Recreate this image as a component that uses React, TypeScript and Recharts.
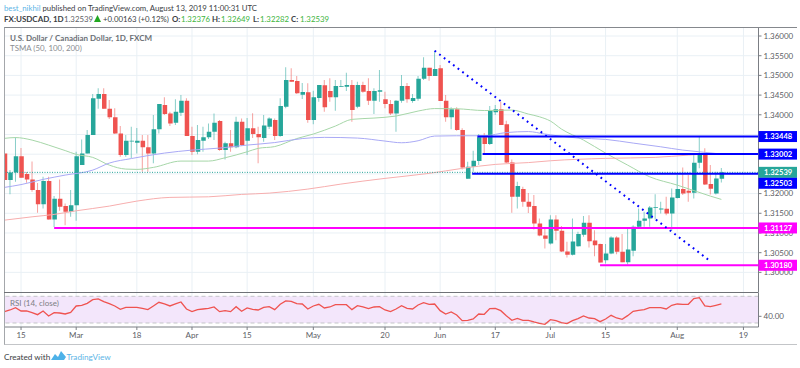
import {
  Bar,
  CartesianGrid,
  Cell,
  ComposedChart,
  Line,
  ReferenceArea,
  ReferenceLine,
  XAxis,
  YAxis,
} from "recharts";

const FONT = "Lato, 'Open Sans', sans-serif";
const UP = "#26a69a";
const DOWN = "#ef5350";
const BLUE = "#0000ff";
const MAGENTA = "#ff00ff";
const GRID = "#e9f0f5";
const TICK = "#5d6066";

// first candle in the frame is three sessions before Feb 15
const FIRST_BAR = -3;

const opens = [
  1.3302, 1.32342, 1.32538, 1.3295, 1.32494, 1.3236, 1.32088, 1.31732, 1.32317, 1.31344,
  1.31867, 1.31682, 1.31537, 1.31707, 1.32723, 1.3302, 1.33485, 1.34407, 1.34526, 1.34153,
  1.33935, 1.33528, 1.32977, 1.33325, 1.33289, 1.3334, 1.33173, 1.3302, 1.3363, 1.34247,
  1.34036, 1.33797, 1.34051, 1.34356, 1.3346, 1.33061, 1.3334, 1.33427, 1.33569, 1.33841,
  1.33104, 1.33275, 1.33173, 1.33823, 1.3334, 1.33656, 1.3351, 1.33409, 1.33696, 1.33866,
  1.3346, 1.34204, 1.34882, 1.34857, 1.34509, 1.3457, 1.33866, 1.34425, 1.34747, 1.34602,
  1.34443, 1.34712, 1.34712, 1.34755, 1.34204, 1.34755, 1.34602, 1.34356, 1.34585, 1.34392,
  1.34272, 1.34036, 1.34356, 1.3473, 1.34349, 1.34407, 1.34915, 1.35194, 1.34984, 1.35179,
  1.34356, 1.33935, 1.34138, 1.33612, 1.32375, 1.3268, 1.32825, 1.33427, 1.33257, 1.34062,
  1.34138, 1.33757, 1.32792, 1.31918, 1.32114, 1.31791, 1.31682, 1.31243, 1.30938, 1.30735,
  1.31344, 1.31055, 1.30531, 1.30445, 1.30666, 1.30953, 1.31258, 1.30808, 1.30717, 1.3031,
  1.30481, 1.30887, 1.30521, 1.3026, 1.30547, 1.31156, 1.31308, 1.3137, 1.31639, 1.31598,
  1.31613, 1.31496, 1.31885, 1.32114, 1.32071, 1.3202, 1.32782, 1.3302, 1.32241, 1.32005,
  1.32376,
];

const closes = [
  1.32342, 1.32538, 1.3295, 1.324, 1.3236, 1.32088, 1.31732, 1.32317, 1.31344, 1.31867,
  1.31664, 1.31537, 1.31707, 1.3295, 1.3302, 1.33485, 1.34417, 1.34526, 1.34153, 1.33935,
  1.33528, 1.32977, 1.3334, 1.3334, 1.3334, 1.33173, 1.3302, 1.3363, 1.34272, 1.34018,
  1.33782, 1.34077, 1.34356, 1.3346, 1.33061, 1.33358, 1.33427, 1.33569, 1.33797, 1.33104,
  1.33275, 1.33173, 1.33823, 1.33231, 1.33656, 1.3351, 1.33427, 1.33727, 1.33909, 1.3346,
  1.34222, 1.34882, 1.34839, 1.34544, 1.34577, 1.33866, 1.34443, 1.34755, 1.34189, 1.34443,
  1.3473, 1.3473, 1.34755, 1.3412, 1.34755, 1.34585, 1.34356, 1.34602, 1.3462, 1.34272,
  1.34036, 1.34356, 1.3473, 1.34392, 1.34425, 1.34915, 1.35194, 1.34984, 1.35162, 1.34349,
  1.33935, 1.34138, 1.33612, 1.32665, 1.3268, 1.32833, 1.33427, 1.33257, 1.34102, 1.34138,
  1.33739, 1.32792, 1.31918, 1.3219, 1.31791, 1.31664, 1.31243, 1.30938, 1.30851, 1.31344,
  1.31055, 1.30531, 1.30445, 1.30785, 1.30971, 1.31258, 1.30793, 1.30691, 1.30252, 1.30481,
  1.30887, 1.30521, 1.3026, 1.30582, 1.31156, 1.31308, 1.3137, 1.31649, 1.31657, 1.31623,
  1.31496, 1.31903, 1.32114, 1.32005, 1.3202, 1.32782, 1.3302, 1.32233, 1.32122, 1.32386,
  1.32539,
];

const highs = [
  1.33104, 1.32596, 1.33427, 1.33155, 1.32545, 1.32817, 1.32266, 1.32426, 1.32426, 1.31936,
  1.3236, 1.3175, 1.32088, 1.33061, 1.33376, 1.33612, 1.34526, 1.34671, 1.34671, 1.34374,
  1.34163, 1.33714, 1.33485, 1.33696, 1.33663, 1.33485, 1.33485, 1.33993, 1.34272, 1.34443,
  1.34077, 1.34392, 1.34501, 1.34417, 1.33696, 1.33739, 1.33696, 1.33782, 1.34036, 1.33866,
  1.33315, 1.33612, 1.3395, 1.33909, 1.33917, 1.3404, 1.33696, 1.33993, 1.33935, 1.33909,
  1.34417, 1.35205, 1.35179, 1.34984, 1.34806, 1.34798, 1.3461, 1.34755, 1.34882, 1.34925,
  1.34882, 1.34882, 1.35067, 1.34882, 1.34839, 1.34839, 1.34925, 1.34671, 1.35136, 1.34585,
  1.34374, 1.34374, 1.35009, 1.34806, 1.34526, 1.34984, 1.35459, 1.35194, 1.35627, 1.35263,
  1.34501, 1.34189, 1.34189, 1.33656, 1.32807, 1.33086, 1.3351, 1.33536, 1.34222, 1.34247,
  1.34331, 1.33848, 1.32868, 1.32299, 1.32172, 1.32012, 1.31961, 1.3137, 1.31123, 1.31453,
  1.31453, 1.31174, 1.30775, 1.3137, 1.31029, 1.31428, 1.31453, 1.31072, 1.30735, 1.30717,
  1.3092, 1.3092, 1.30971, 1.31131, 1.31199, 1.31623, 1.31537, 1.31682, 1.31986, 1.31791,
  1.31918, 1.32132, 1.32469, 1.32665, 1.32469, 1.3302, 1.3346, 1.33148, 1.32723, 1.32553,
  1.32649,
];

const lows = [
  1.32291, 1.31986, 1.32299, 1.32393, 1.32273, 1.32045, 1.31511, 1.31623, 1.31344, 1.31149,
  1.31562, 1.31199, 1.3141, 1.31308, 1.32723, 1.3302, 1.33485, 1.34153, 1.34153, 1.33891,
  1.3351, 1.32934, 1.32934, 1.32901, 1.3302, 1.32553, 1.32553, 1.32767, 1.33528, 1.33993,
  1.33714, 1.33739, 1.33968, 1.3346, 1.32977, 1.33, 1.33061, 1.33384, 1.33358, 1.33086,
  1.32868, 1.33061, 1.33148, 1.33206, 1.32977, 1.33409, 1.32767, 1.33315, 1.33638, 1.33358,
  1.33442, 1.34163, 1.34839, 1.34526, 1.34399, 1.33797, 1.33757, 1.34331, 1.34077, 1.34331,
  1.34102, 1.34704, 1.34602, 1.33823, 1.34163, 1.3456, 1.34247, 1.34018, 1.34331, 1.34163,
  1.33993, 1.33569, 1.34305, 1.34305, 1.34305, 1.34356, 1.34882, 1.34864, 1.34984, 1.34349,
  1.33823, 1.3363, 1.33595, 1.32614, 1.32375, 1.32553, 1.32723, 1.3302, 1.33231, 1.33993,
  1.33739, 1.32774, 1.31511, 1.31623, 1.31664, 1.31504, 1.3109, 1.3092, 1.30608, 1.30709,
  1.30818, 1.30514, 1.30379, 1.3043, 1.30648, 1.30902, 1.30633, 1.30412, 1.30242, 1.30227,
  1.30463, 1.30463, 1.3026, 1.30201, 1.30412, 1.31131, 1.31156, 1.31156, 1.31344, 1.31496,
  1.31453, 1.31055, 1.31877, 1.31961, 1.31791, 1.31877, 1.3264, 1.32215, 1.31979, 1.31979,
  1.32282,
];

const rsiValues = [
  47, 49.5, 53, 48, 48, 45.5, 42.5, 48, 40.5, 45.5, 45, 43.5, 46, 55.5, 56.5, 59.5, 65, 66, 62, 59,
  55.5, 50.5, 53.5, 53.5, 53.5, 52, 50, 55.5, 61, 58.5, 55.5, 58.5, 61.5, 51, 47, 50, 51, 52, 54, 47,
  48.5, 47, 54.5, 47.5, 52.5, 50.5, 49.5, 53.5, 54.5, 50, 58, 63, 62.5, 59, 58.5, 51, 55.5, 58, 52.5, 54,
  57.5, 57.5, 57.5, 50, 56, 54, 51.5, 54, 54.5, 49.5, 47, 51, 56, 52, 51, 57, 60.5, 58, 58.5, 48.5,
  43.5, 46.5, 42, 33.5, 34, 36, 43.5, 43, 51.5, 52, 48.5, 41, 34, 37, 34, 34, 31.5, 29.5, 28, 35,
  33.5, 30.5, 29, 33.5, 36.5, 40.5, 37.5, 36.5, 32, 36, 41.5, 37.5, 35.5, 41, 47.5, 49, 50, 53, 53, 53,
  51, 56.5, 58.5, 58, 58, 66.5, 68, 55.5, 54.5, 56.5, 58.5,
];

// moving averages read at a handful of bars, [bar, price]
const sma50: [number, number][] = [
  [-3, 1.33402], [-1, 1.33422], [2, 1.33358], [5, 1.33231], [8, 1.33092], [10, 1.32995], [13, 1.32919],
  [16, 1.32723], [19, 1.32622], [21, 1.32614], [24, 1.32665], [29, 1.32825], [34, 1.32825], [37, 1.32909],
  [41, 1.33061], [43, 1.33148], [46, 1.33193], [50, 1.33397], [53, 1.33511], [57, 1.33714], [60, 1.33884],
  [64, 1.33917], [68, 1.33968], [72, 1.34095], [75, 1.34158], [79, 1.34153], [84, 1.34108], [89, 1.3412],
  [92, 1.34019], [94, 1.3395], [96, 1.33841], [98, 1.33638], [102, 1.33358], [106, 1.33028], [110, 1.32723],
  [114, 1.32426], [119, 1.32215], [122, 1.32076], [125, 1.31936], [127, 1.31852],
];
const sma100: [number, number][] = [
  [-3, 1.32157], [0, 1.32228], [4, 1.3236], [8, 1.32469], [13, 1.32596], [16, 1.32774], [20, 1.32889],
  [26, 1.33028], [31, 1.33104], [36, 1.33155], [41, 1.33231], [46, 1.33295], [51, 1.33397], [55, 1.33427],
  [61, 1.33409], [66, 1.33333], [69, 1.3329], [72, 1.33341], [75, 1.3346], [79, 1.33468], [84, 1.33468],
  [88, 1.33549], [92, 1.33574], [95, 1.33511], [101, 1.33409], [106, 1.33376], [111, 1.33282], [116, 1.33188],
  [120, 1.33104], [123, 1.33061], [127, 1.33003],
];
const sma200: [number, number][] = [
  [-3, 1.31326], [2, 1.3141], [6, 1.31471], [10, 1.31563], [16, 1.31682], [21, 1.31809], [27, 1.31903],
  [34, 1.31918], [40, 1.31979], [45, 1.32012], [52, 1.32114], [58, 1.32241], [66, 1.32386], [74, 1.32513],
  [80, 1.3264], [86, 1.32741], [92, 1.32787], [96, 1.32833], [106, 1.32894], [115, 1.32919], [121, 1.32977],
  [124, 1.33003], [127, 1.33016],
];

const trendLine: [number, number][] = [[75, 1.35627], [124.75, 1.3031]];

const blueLevels: [number, number][] = [[82.75, 1.33448], [83.7, 1.33002], [81.8, 1.32503]];
const magentaLevels: [number, number][] = [[6, 1.31127], [105, 1.3018]];
const LAST_PRICE = 1.32539;

const gridPrices = [1.3, 1.305, 1.31, 1.315, 1.32, 1.325, 1.33, 1.335, 1.34, 1.345, 1.35, 1.355, 1.36];
// 1.335, 1.33 and 1.325 sit fully behind the price tags
const priceTicks = [1.3, 1.305, 1.31, 1.315, 1.32, 1.34, 1.345, 1.35, 1.355, 1.36];
const timeTicks = [0, 10, 21, 31, 41, 53, 66, 76, 86, 96, 106, 119, 131];
const timeLabels = ["15", "Mar", "18", "Apr", "15", "May", "20", "Jun", "17", "Jul", "15", "Aug", "19"];

const tags = [
  { value: 1.33448, color: BLUE },
  { value: 1.33002, color: BLUE },
  { value: 1.32539, color: UP },
  { value: 1.32503, color: BLUE },
  { value: 1.31127, color: MAGENTA },
  { value: 1.3018, color: MAGENTA },
];

const candles = opens.map((open, k) => ({
  bar: k + FIRST_BAR,
  open,
  close: closes[k],
  wick: [lows[k], highs[k]],
  body: [Math.min(open, closes[k]), Math.max(open, closes[k])],
}));
const rsi = rsiValues.map((value, k) => ({ bar: k + FIRST_BAR, value }));
const toPoints = (rows: [number, number][]) => rows.map(([bar, value]) => ({ bar, value }));
const levelPoints = (start: number, value: number) => [{ bar: start, value }, { bar: 133.7, value }];

const BAR_DOMAIN: [number, number] = [-3, 133.73];

function TagTick({ y, payload }: any) {
  const tag = tags.find((t) => t.value === payload.value);
  if (!tag) return null;
  // the 1.32503 tag gets pushed down under the last price tag
  const shift = tag.value === 1.32503 ? 9.5 : 0;
  return (
    <g>
      <rect x={758.5} y={y + shift - 5.5} width={38.5} height={11} fill={tag.color} />
      <text x={764} y={y + shift + 2.9} fontSize={7.6} fontFamily={FONT} fill="#fff" style={{ fontWeight: 700 }}>
        {tag.value.toFixed(5)}
      </text>
    </g>
  );
}

function MainChart() {
  return (
    <ComposedChart
      width={800}
      height={293}
      data={candles}
      margin={{ top: 27.5, right: 0, bottom: 0.5, left: 4.5 }}
      style={{ position: "absolute", left: 0, top: 0 }}
    >
      <XAxis xAxisId="time" dataKey="bar" type="number" domain={BAR_DOMAIN} allowDataOverflow hide height={0} />
      <XAxis xAxisId="body" dataKey="bar" type="number" domain={BAR_DOMAIN} allowDataOverflow hide height={0} />
      <YAxis
        yAxisId="price"
        orientation="right"
        width={40.5}
        domain={[1.29489, 1.36216]}
        allowDataOverflow
        ticks={priceTicks}
        interval={0}
        tickFormatter={(v) => Number(v).toFixed(5)}
        tick={{ fill: TICK, fontSize: 8, fontFamily: FONT }}
        tickSize={3}
        tickMargin={2}
        stroke="#7b7e84"
      />
      <YAxis
        yAxisId="tags"
        orientation="right"
        width={1}
        domain={[1.29489, 1.36216]}
        allowDataOverflow
        ticks={tags.map((t) => t.value)}
        interval={0}
        axisLine={false}
        tickLine={false}
        tick={<TagTick />}
      />
      <CartesianGrid
        xAxisId="time"
        yAxisId="price"
        stroke={GRID}
        horizontalValues={gridPrices}
        verticalValues={timeTicks}
      />
      <Line xAxisId="time" yAxisId="price" data={toPoints(sma50)} dataKey="value" type="monotone" dot={false} stroke="#a6d6a8" strokeWidth={1} isAnimationActive={false} />
      <Line xAxisId="time" yAxisId="price" data={toPoints(sma100)} dataKey="value" type="monotone" dot={false} stroke="#a9a9f5" strokeWidth={1} isAnimationActive={false} />
      <Line xAxisId="time" yAxisId="price" data={toPoints(sma200)} dataKey="value" type="monotone" dot={false} stroke="#f7aeae" strokeWidth={1} isAnimationActive={false} />
      <Bar xAxisId="time" yAxisId="price" dataKey="wick" barSize={1} isAnimationActive={false}>
        {candles.map((c) => (
          <Cell key={c.bar} fill={c.close >= c.open ? UP : DOWN} fillOpacity={0.55} />
        ))}
      </Bar>
      <Bar xAxisId="body" yAxisId="price" dataKey="body" barSize={4.5} isAnimationActive={false}>
        {candles.map((c) => (
          <Cell key={c.bar} fill={c.close >= c.open ? UP : DOWN} />
        ))}
      </Bar>
      <Line xAxisId="time" yAxisId="price" data={levelPoints(-3, LAST_PRICE)} dataKey="value" dot={false} stroke={UP} strokeWidth={1} strokeDasharray="1 1.5" isAnimationActive={false} />
      {blueLevels.map(([start, value]) => (
        <Line key={value} xAxisId="time" yAxisId="price" data={levelPoints(start, value)} dataKey="value" dot={false} stroke={BLUE} strokeWidth={2} isAnimationActive={false} />
      ))}
      {magentaLevels.map(([start, value]) => (
        <Line key={value} xAxisId="time" yAxisId="price" data={levelPoints(start, value)} dataKey="value" dot={false} stroke={MAGENTA} strokeWidth={2} isAnimationActive={false} />
      ))}
      <Line xAxisId="time" yAxisId="price" data={toPoints(trendLine)} dataKey="value" dot={false} stroke={BLUE} strokeWidth={2} strokeDasharray="1.8 4" isAnimationActive={false} />
    </ComposedChart>
  );
}

function RsiChart() {
  return (
    <ComposedChart
      width={800}
      height={53}
      data={rsi}
      margin={{ top: 0.5, right: 0, bottom: 0, left: 4.5 }}
      style={{ position: "absolute", left: 0, top: 292 }}
    >
      <XAxis
        dataKey="bar"
        type="number"
        domain={BAR_DOMAIN}
        allowDataOverflow
        ticks={timeTicks}
        interval={0}
        height={18}
        tickFormatter={(v) => timeLabels[timeTicks.indexOf(v)]}
        tick={{ fill: TICK, fontSize: 8, fontFamily: FONT }}
        tickSize={3}
        tickMargin={2}
        stroke="#7b7e84"
      />
      <YAxis
        orientation="right"
        width={41.5}
        domain={[24, 75.7]}
        allowDataOverflow
        ticks={[40]}
        tick={{ fill: TICK, fontSize: 8, fontFamily: FONT }}
        tickFormatter={(v) => Number(v).toFixed(2)}
        tickSize={3}
        tickMargin={2}
        stroke="#7b7e84"
      />
      <ReferenceArea y1={30} y2={70} fill="#f3e6fb" fillOpacity={1} stroke="none" />
      <CartesianGrid stroke={GRID} horizontalValues={[40]} verticalValues={timeTicks} />
      <ReferenceLine y={70} stroke="#c4c4c8" strokeDasharray="4 3" />
      <ReferenceLine y={30} stroke="#c4c4c8" strokeDasharray="4 3" />
      <Line dataKey="value" type="linear" dot={false} stroke={DOWN} strokeWidth={1.3} isAnimationActive={false} />
    </ComposedChart>
  );
}

const quote = [
  { key: "O:", value: "1.32376", left: 172 },
  { key: "H:", value: "1.32649", left: 212 },
  { key: "L:", value: "1.32282", left: 253 },
  { key: "C:", value: "1.32539", left: 291 },
];

function abs(left: number, top: number, extra: any = {}) {
  return { position: "absolute", left, top, whiteSpace: "nowrap", ...extra } as any;
}

export default function App() {
  return (
    <div
      style={{
        position: "absolute",
        left: 0,
        top: 0,
        width: 800,
        height: 368,
        background: "#fff",
        overflow: "hidden",
        fontFamily: FONT,
        color: "#3b3e44",
        fontSize: 7.8,
        lineHeight: "11px",
      }}
    >
      <div style={abs(4, 2.5)}>
        <span style={{ color: "#5db5e6" }}>best_nikhil</span> published on TradingView.com, August 13, 2019 11:00:31 UTC
      </div>
      <div style={abs(4, 13.5, { fontWeight: 700, fontSize: 8 })}>FX:USDCAD, 1D</div>
      <div style={abs(64, 13.5, { color: "#5d6066" })}>1.32539</div>
      <svg style={abs(94, 15)} width={7} height={7}>
        <polygon points="3.5,0 7,7 0,7" fill="#22a822" />
      </svg>
      <div style={abs(103, 13.5)}>+0.00163 (+0.12%)</div>
      {quote.map((q) => (
        <div key={q.key}>
          <div style={abs(q.left, 13.5, { fontWeight: 700 })}>{q.key}</div>
          <div style={abs(q.left + (q.key === "L:" ? 7 : 9), 13.5, { color: "#3cb43c" })}>{q.value}</div>
        </div>
      ))}

      <MainChart />
      <RsiChart />

      <div style={abs(4, 27, { width: 793, height: 318, borderTop: "1px solid #85888d", borderLeft: "1.5px solid #a4a7ab", borderBottom: "1.5px solid #c3c5c8", boxSizing: "border-box", pointerEvents: "none" })} />
      <div style={abs(4, 292, { width: 754, height: 1, background: "#6f7277" })} />

      <div style={abs(10, 32.5, { color: "#6b6f75", fontSize: 8, fontWeight: 700 })}>U.S. Dollar / Canadian Dollar, 1D, FXCM</div>
      <div style={abs(10, 43, { color: "#8a8d92", fontSize: 7.9 })}>TSMA (50, 100, 200)</div>
      <div style={abs(10, 298, { color: "#7b7e84", fontSize: 8 })}>RSI (14, close)</div>

      <div style={abs(4, 351.5, { fontSize: 8.2 })}>Created with</div>
      <svg style={abs(51, 350)} width={15} height={11}>
        <path d="M0 10 L4 4 L7 7 L10 1 L15 7 L13 10 Z" fill="#4db1e8" />
      </svg>
      <div style={abs(66.5, 351.5, { color: "#5db5e6", fontSize: 8.2 })}>TradingView</div>
    </div>
  );
}
